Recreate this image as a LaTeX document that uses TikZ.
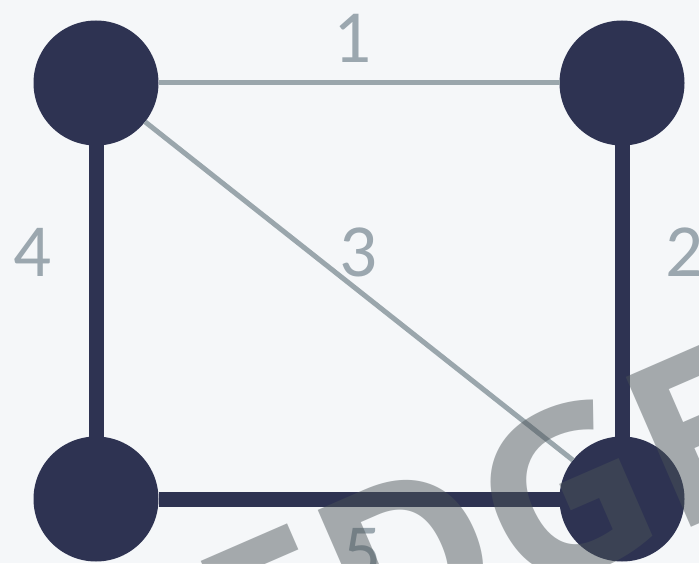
\documentclass[tikz,border=0pt]{standalone}
\usepackage{fontspec}
\setmainfont{Carlito}
\newfontfamily\wmfont{Open Sans}[BoldFont={Open Sans Bold}]
\begin{document}
\begin{tikzpicture}[x=1pt,y=1pt]
\definecolor{bgc}{HTML}{F5F7F9}
\definecolor{navy}{HTML}{2E3352}
\definecolor{thinc}{HTML}{9AA6AC}
\definecolor{lab}{HTML}{9BA7AF}
\definecolor{wm}{HTML}{4A5357}
\tikzset{
  vert/.style={circle, fill=navy, minimum size=125pt, inner sep=0pt, outer sep=0pt},
  heavy/.style={draw=navy, line width=15pt},
  light/.style={draw=thinc, line width=5pt},
  lbl/.style={text=lab, font=\fontsize{75}{75}\selectfont, inner sep=0pt}
}
\fill[bgc] (0,0) rectangle (699,563);
\useasboundingbox (0,0) rectangle (699,563);
\clip (0,0) rectangle (699,563);
\node[vert] (a) at (96,480) {};
\node[vert] (b) at (622,480) {};
\node[vert] (c) at (96,64) {};
\node[vert] (d) at (622,64) {};
\draw[light] (a) -- (b);
\draw[heavy] (b) -- (d);
\draw[light] (a) -- (d);
\draw[heavy] (a) -- (c);
\draw[heavy] (c) -- (d);
\node[lbl] (l1) at (353,525) {1};
\node[lbl] (l2) at (684,311) {2};
\node[lbl] (l3) at (359,311) {3};
\node[lbl] (l4) at (33,311) {4};
\node[lbl] (l5) at (363,10) {5};
\node[anchor=base west, rotate=23.5, text=wm, text opacity=0.47, inner sep=0pt,
  font=\wmfont\bfseries\fontsize{229}{229}\selectfont] (wmk) at (247,-157) {EDGE};
\end{tikzpicture}
\end{document}
